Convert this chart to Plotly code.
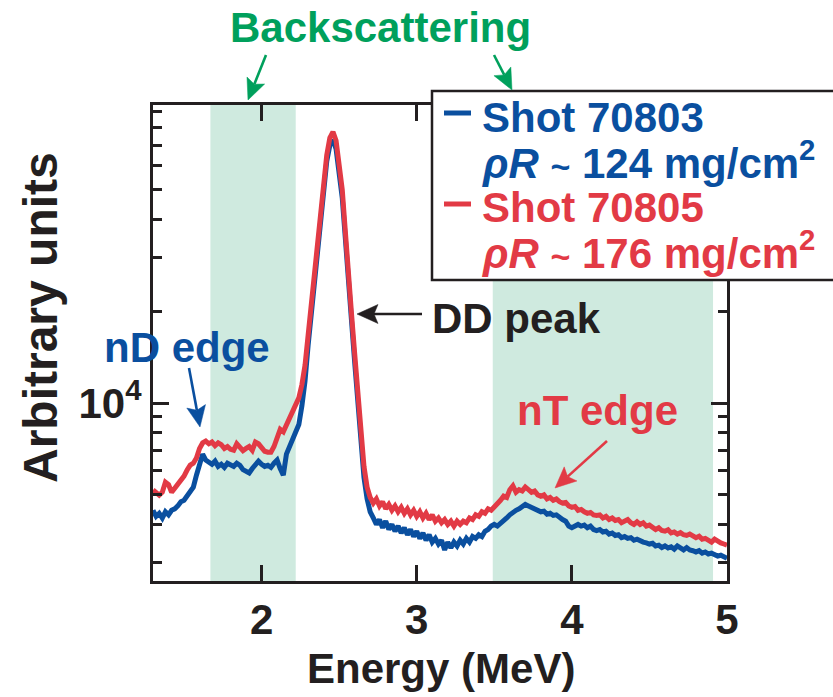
import math
import plotly.graph_objects as go

# Neutron spectra (arbitrary units, in thousands) versus energy (MeV)
energy_mev = [
    1.30, 1.32, 1.34, 1.36, 1.38, 1.40, 1.42, 1.44, 1.46, 1.48,
    1.50, 1.52, 1.54, 1.56, 1.58, 1.60, 1.62, 1.64, 1.66, 1.68,
    1.70, 1.72, 1.74, 1.76, 1.78, 1.80, 1.82, 1.84, 1.86, 1.88,
    1.90, 1.92, 1.94, 1.96, 1.98, 2.00, 2.02, 2.04, 2.06, 2.08,
    2.10, 2.12, 2.14, 2.16, 2.18, 2.20, 2.22, 2.24, 2.26, 2.28,
    2.30, 2.32, 2.34, 2.36, 2.38, 2.40, 2.42, 2.44, 2.46, 2.48,
    2.50, 2.52, 2.54, 2.56, 2.58, 2.60, 2.62, 2.64, 2.66, 2.68,
    2.70, 2.72, 2.74, 2.76, 2.78, 2.80, 2.82, 2.84, 2.86, 2.88,
    2.90, 2.92, 2.94, 2.96, 2.98, 3.00, 3.02, 3.04, 3.06, 3.08,
    3.10, 3.12, 3.14, 3.16, 3.18, 3.20, 3.22, 3.24, 3.26, 3.28,
    3.30, 3.32, 3.34, 3.36, 3.38, 3.40, 3.42, 3.44, 3.46, 3.48,
    3.50, 3.52, 3.54, 3.56, 3.58, 3.60, 3.62, 3.64, 3.66, 3.68,
    3.70, 3.72, 3.74, 3.76, 3.78, 3.80, 3.82, 3.84, 3.86, 3.88,
    3.90, 3.92, 3.94, 3.96, 3.98, 4.00, 4.02, 4.04, 4.06, 4.08,
    4.10, 4.12, 4.14, 4.16, 4.18, 4.20, 4.22, 4.24, 4.26, 4.28,
    4.30, 4.32, 4.34, 4.36, 4.38, 4.40, 4.42, 4.44, 4.46, 4.48,
    4.50, 4.52, 4.54, 4.56, 4.58, 4.60, 4.62, 4.64, 4.66, 4.68,
    4.70, 4.72, 4.74, 4.76, 4.78, 4.80, 4.82, 4.84, 4.86, 4.88,
    4.90, 4.92, 4.94, 4.96, 4.98, 5.00,
]

shot_70803_k = [
    4.45, 4.25, 4.35, 4.20, 4.40, 4.30, 4.45, 4.50, 4.60, 4.75,
    4.80, 4.95, 5.10, 5.30, 5.80, 6.20, 6.80, 6.50, 6.40, 6.30,
    6.45, 6.20, 6.30, 6.15, 6.35, 6.25, 6.20, 6.35, 6.25, 6.05,
    5.95, 5.90, 6.10, 6.30, 6.45, 6.30, 6.20, 6.25, 6.15, 6.35,
    6.50, 6.10, 5.80, 6.80, 7.20, 7.50, 7.90, 8.50, 9.80, 11.8,
    15.5, 19.8, 25.0, 31.5, 41.0, 51.5, 62.0, 70.0, 72.8, 68.0,
    57.5, 47.0, 34.5, 24.0, 18.5, 13.6, 10.0, 7.30, 5.70, 4.85,
    4.40, 4.20, 4.00, 4.15, 3.90, 4.10, 3.85, 4.00, 3.80, 3.95,
    3.75, 3.90, 3.70, 3.85, 3.65, 3.80, 3.60, 3.75, 3.55, 3.70,
    3.50, 3.60, 3.45, 3.55, 3.30, 3.50, 3.35, 3.50, 3.40, 3.55,
    3.45, 3.60, 3.50, 3.65, 3.60, 3.70, 3.65, 3.80, 3.85, 3.95,
    4.00, 3.95, 4.05, 4.15, 4.20, 4.30, 4.40, 4.45, 4.50, 4.60,
    4.65, 4.60, 4.55, 4.50, 4.45, 4.40, 4.42, 4.32, 4.35, 4.28,
    4.30, 4.20, 4.15, 4.10, 3.95, 3.90, 3.95, 4.00, 3.95, 3.98,
    3.90, 3.95, 3.85, 3.82, 3.85, 3.78, 3.80, 3.72, 3.75, 3.68,
    3.70, 3.62, 3.65, 3.60, 3.62, 3.55, 3.58, 3.52, 3.50, 3.48,
    3.45, 3.47, 3.40, 3.42, 3.36, 3.40, 3.35, 3.38, 3.32, 3.40,
    3.35, 3.30, 3.36, 3.30, 3.28, 3.25, 3.28, 3.22, 3.25, 3.20,
    3.22, 3.18, 3.15, 3.17, 3.12, 3.10,
]

shot_70805_k = [
    5.19, 5.07, 4.99, 5.10, 5.50, 5.40, 5.10, 5.26, 5.40, 5.60,
    5.76, 6.03, 6.26, 6.35, 6.60, 7.10, 7.40, 7.50, 7.35, 7.45,
    7.25, 7.40, 7.30, 7.10, 7.20, 7.05, 7.00, 7.35, 7.20, 6.98,
    7.10, 7.20, 7.00, 7.45, 7.35, 7.15, 6.95, 6.90, 6.90, 7.20,
    7.70, 8.20, 8.05, 8.50, 8.96, 9.50, 9.85, 10.4, 11.5, 13.3,
    16.7, 21.0, 26.3, 33.0, 43.0, 54.0, 65.0, 74.0, 77.4, 72.5,
    61.0, 50.0, 36.4, 25.0, 19.5, 14.5, 10.5, 7.80, 6.20, 5.30,
    4.90, 4.70, 4.85, 4.60, 4.75, 4.50, 4.65, 4.45, 4.60, 4.40,
    4.55, 4.35, 4.50, 4.30, 4.45, 4.25, 4.40, 4.20, 4.35, 4.15,
    4.30, 4.10, 4.20, 4.05, 4.15, 4.00, 4.10, 3.95, 4.10, 4.00,
    4.10, 4.05, 4.20, 4.15, 4.30, 4.25, 4.40, 4.35, 4.50, 4.45,
    4.55, 4.70, 4.80, 4.95, 4.90, 5.20, 5.35, 5.10, 5.20, 5.15,
    5.30, 5.20, 5.10, 5.15, 5.00, 4.95, 5.00, 4.85, 4.90, 4.80,
    4.85, 4.75, 4.70, 4.72, 4.60, 4.55, 4.58, 4.45, 4.48, 4.40,
    4.35, 4.38, 4.30, 4.28, 4.30, 4.20, 4.25, 4.15, 4.20, 4.12,
    4.15, 4.05, 4.10, 4.15, 4.05, 4.00, 4.08, 4.00, 4.05, 3.95,
    3.98, 3.90, 3.85, 3.90, 3.82, 3.80, 3.84, 3.75, 3.78, 3.72,
    3.76, 3.70, 3.68, 3.72, 3.65, 3.62, 3.66, 3.58, 3.60, 3.55,
    3.50, 3.58, 3.52, 3.48, 3.45, 3.42,
]

# Backscattering energy windows (MeV)
backscatter_bands = [(1.67, 2.22), (3.49, 4.91)]

x_ticks = [2, 3, 4, 5]
y_major = [1e4]
y_major_text = ["10<sup>4</sup>"]
y_minor = [3000, 4000, 5000, 6000, 7000, 8000, 9000,
           20000, 30000, 40000, 50000, 60000, 70000, 80000, 90000]

X_RANGE = [1.30, 5.00]
Y_RANGE = [2610, 94800]

BLUE = "#0a4f9f"
RED = "#e23a45"
GREEN = "#00a05c"
BAND = "#cfeadf"
INK = "#231f20"
FONT = "Liberation Sans, Arial, Helvetica, sans-serif"

W, H = 833, 697
L, R, T, B = 153, 727, 105, 581


def px(x):
    return (x - L) / (R - L)


def py(y):
    return (B - y) / (B - T)


counts_70803 = [v * 1000 for v in shot_70803_k]
counts_70805 = [v * 1000 for v in shot_70805_k]

fig = go.Figure()
fig.add_trace(go.Scatter(x=energy_mev, y=counts_70803, mode="lines",
                         line=dict(color=BLUE, width=5), showlegend=False))
fig.add_trace(go.Scatter(x=energy_mev, y=counts_70805, mode="lines",
                         line=dict(color=RED, width=5), showlegend=False))

for x0, x1 in backscatter_bands:
    fig.add_shape(type="rect", xref="x", yref="paper", x0=x0, x1=x1, y0=0, y1=1,
                  fillcolor=BAND, line=dict(width=0), layer="below")

# Legend box with sample lines
fig.add_shape(type="rect", xref="paper", yref="paper",
              x0=px(432), x1=px(850), y0=py(280), y1=py(91),
              fillcolor="white", line=dict(color=INK, width=2.5), layer="above")
for color, yy in [(BLUE, 113), (RED, 204)]:
    fig.add_shape(type="line", xref="paper", yref="paper",
                  x0=px(444), x1=px(471), y0=py(yy), y1=py(yy),
                  line=dict(color=color, width=5), layer="above")

tilde = "<span style='font-size:34px'>~</span>"
legend_rows = [
    ("Shot 70803", BLUE, 117),
    (f"<i>ρR</i> {tilde} 124 mg/cm<sup>2</sup>", BLUE, 160),
    ("Shot 70805", RED, 207),
    (f"<i>ρR</i> {tilde} 176 mg/cm<sup>2</sup>", RED, 250),
]
for text, color, yy in legend_rows:
    fig.add_annotation(xref="paper", yref="paper", x=px(480), y=py(yy),
                       text=text, showarrow=False, xanchor="left", yanchor="middle",
                       font=dict(family=FONT, size=42, color=color, weight="bold"))


def label(text, x, y, color, size=42, angle=0, xanchor="center"):
    fig.add_annotation(xref="paper", yref="paper", x=px(x), y=py(y), text=text,
                       showarrow=False, xanchor=xanchor, yanchor="middle",
                       textangle=angle,
                       font=dict(family=FONT, size=size, color=color, weight="bold"))


def arrow(tail, head, color, width=2.6, head_len=21, head_half=9.5, notch=4):
    """Straight arrow drawn as a shaft plus a filled, slightly notched head."""
    dx, dy = head[0] - tail[0], head[1] - tail[1]
    d = math.hypot(dx, dy)
    ux, uy = dx / d, dy / d
    nx, ny = -uy, ux
    bx, by = head[0] - ux * head_len, head[1] - uy * head_len
    fig.add_shape(type="line", xref="paper", yref="paper",
                  x0=px(tail[0]), y0=py(tail[1]),
                  x1=px(bx + ux * notch), y1=py(by + uy * notch),
                  line=dict(color=color, width=width), layer="above")
    pts = [
        (head[0], head[1]),
        (bx + nx * head_half, by + ny * head_half),
        (bx + ux * notch, by + uy * notch),
        (bx - nx * head_half, by - ny * head_half),
    ]
    path = "M " + " L ".join(f"{px(a):.5f},{py(b):.5f}" for a, b in pts) + " Z"
    fig.add_shape(type="path", xref="paper", yref="paper", path=path,
                  fillcolor=color, line=dict(color=color, width=0.5), layer="above")


label("Backscattering", 380, 28, GREEN)
arrow((266, 55), (248, 100), GREEN)
arrow((494, 55), (512, 90), GREEN)

label("nD edge", 187, 347, BLUE)
arrow((189, 368), (200, 427), BLUE)

label("DD peak", 430, 318, INK, xanchor="left")
arrow((422, 314), (357, 314), INK)

label("nT edge", 597, 410, RED)
arrow((607, 441), (555, 488), RED)

label("Arbitrary units", 40, 318, INK, size=48, angle=-90)
label("Energy (MeV)", 441, 668, INK, size=42)

fig.update_layout(
    width=W, height=H,
    margin=dict(l=L, r=W - R, t=T, b=H - B, pad=0),
    paper_bgcolor="white", plot_bgcolor="white",
    font=dict(family=FONT, color=INK),
    showlegend=False,
)
fig.update_xaxes(
    range=X_RANGE, tickvals=x_ticks, ticks="inside", ticklen=16, tickwidth=3,
    tickcolor=INK, showline=True, linewidth=3, linecolor=INK, mirror="ticks",
    showgrid=False, zeroline=False,
    tickfont=dict(family=FONT, size=42, color=INK, weight="bold"),
)
fig.update_yaxes(
    type="log", range=[math.log10(Y_RANGE[0]), math.log10(Y_RANGE[1])],
    tickvals=y_major, ticktext=y_major_text, ticks="inside", ticklen=16,
    tickwidth=3, tickcolor=INK, showline=True, linewidth=3, linecolor=INK,
    mirror="ticks", showgrid=False, zeroline=False,
    tickfont=dict(family=FONT, size=42, color=INK, weight="bold"),
    minor=dict(tickvals=y_minor, ticks="inside", ticklen=9, tickwidth=3,
               tickcolor=INK, showgrid=False),
)

fig.write_html("out.html")
